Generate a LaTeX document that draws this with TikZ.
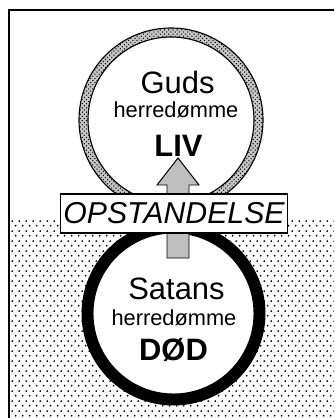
\documentclass[tikz,border=0pt]{standalone}
\usepackage{fontspec}
\setmainfont{Liberation Sans}
\usetikzlibrary{patterns}

\pgfdeclarepatternformonly{sparse dots}{\pgfpointorigin}{\pgfpoint{5.3pt}{6.8pt}}{\pgfpoint{5.3pt}{6.8pt}}{%
  \pgfpathcircle{\pgfpoint{1.3pt}{1.7pt}}{0.75pt}%
  \pgfpathcircle{\pgfpoint{3.95pt}{5.1pt}}{0.75pt}%
  \pgfusepath{fill}}

\tikzset{
  bigword/.style={font=\fontsize{22}{22}\selectfont,anchor=base},
  smallword/.style={font=\fontsize{15.5}{15.5}\selectfont,anchor=base},
  boldword/.style={font=\fontsize{22}{22}\selectfont\bfseries,anchor=base},
}

\begin{document}
\begin{tikzpicture}[x=0.025cm,y=-0.025cm]
				\useasboundingbox (0,0) rectangle (334,418);
				% the dotted lower half
				\fill[pattern=sparse dots] (9,217) rectangle (334,418);
				% frame
				\draw[line width=1.4pt] (9,418) -- (9,10) -- (334,10);
				% upper circle with hatched ring
				\coordinate (top) at (171,120);
				\fill[white] (top) circle (92);
				\fill[gray!45,even odd rule] (top) circle (92) (top) circle (83);
				\path[pattern=crosshatch dots,even odd rule] (top) circle (92) (top) circle (83);
				\draw[line width=0.8pt] (top) circle (92) (top) circle (83);
				% lower circle with thick black ring
				\coordinate (bottom) at (173.5,313.5);
				\draw[fill=white,line width=8.5pt] (bottom) circle (86);
				% texts in the circles
				\node[bigword] (guds) at (177.5,94) {Guds};
				\node[smallword] (herre1) at (176,118) {herredømme};
				\node[boldword] (liv) at (178.5,157) {LIV};
				\node[bigword] (satans) at (176.5,299) {Satans};
				\node[smallword] (herre2) at (174,325) {herredømme};
				\node[boldword] (dod) at (173.5,360) {DØD};
				% the arrow up
				\coordinate (foot) at (178,258);
				\coordinate (tip) at (178,158);
				\draw[fill=gray!50,line width=0.7pt] (foot) ++(-11,0) -- ++(0,-73) -- ++(-10,0) -- (tip) -- ++(21,27) -- ++(-10,0) -- ++(0,73) -- cycle;
				% the box across
				\node[draw,fill=white,line width=0.8pt,minimum width=227*0.025cm,minimum height=39*0.025cm,inner sep=0pt,
				  font=\fontsize{21.5}{21.5}\selectfont\itshape] (opst) at (174,213.5) {OPSTANDELSE};
\end{tikzpicture}
\end{document}
